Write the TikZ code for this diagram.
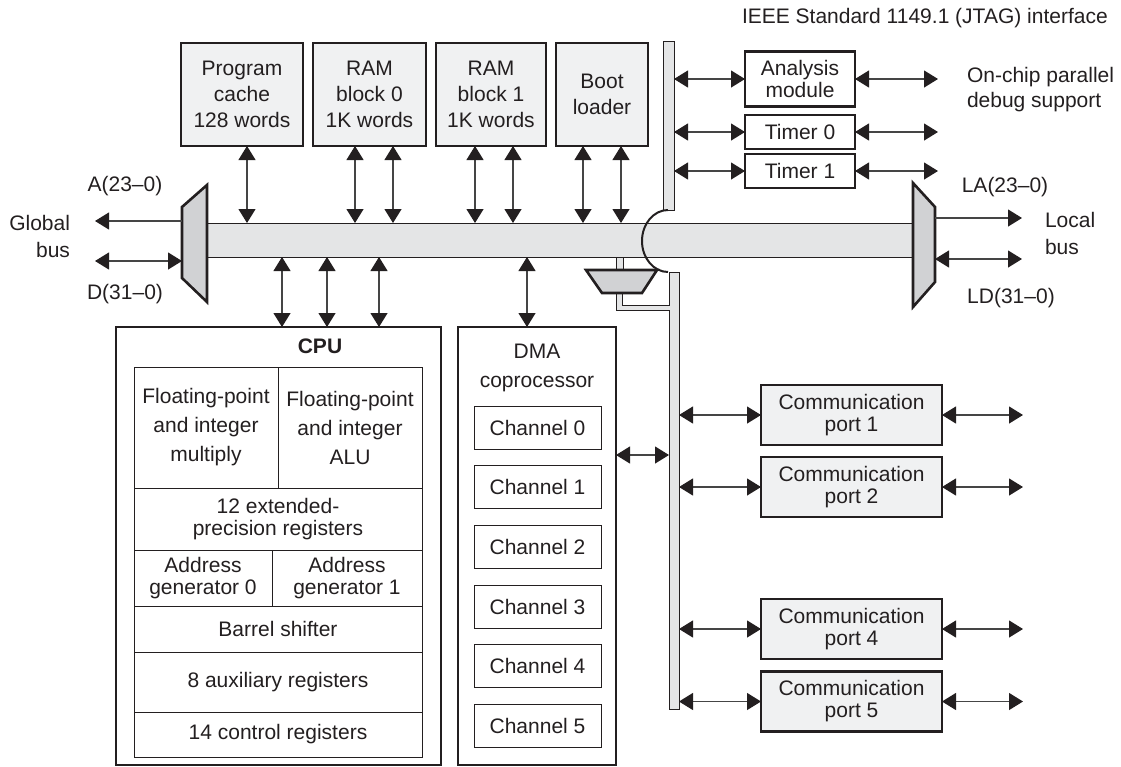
\documentclass[tikz,border=0pt]{standalone}
\usepackage{fontspec}
\setmainfont{Liberation Sans}
\usetikzlibrary{arrows.meta, positioning}

\definecolor{ink}{HTML}{231F20}
\definecolor{wire}{HTML}{454545}
\definecolor{busgray}{HTML}{E4E5E6}
\definecolor{boxgray}{HTML}{F0F1F2}
\definecolor{muxgray}{HTML}{D1D2D4}

\tikzset{
  lbl/.style={font=\fontsize{21}{22}\selectfont, text=ink, align=center, inner sep=0pt, outer sep=0pt},
  unit/.style={lbl, draw=ink, line width=2.6pt},
  mem/.style={unit, fill=boxgray, minimum height=103, font=\fontsize{21}{26}\selectfont},
  cell/.style={lbl, draw=ink, line width=1pt},
  bar/.style={draw=ink, line width=1pt, fill=busgray, inner sep=0pt, outer sep=0pt},
  link/.style={<->, draw=wire, line width=1.2pt},
  mux/.style={draw=ink, line width=2.6pt, fill=muxgray},
}

\begin{document}
\begin{tikzpicture}[x=1pt, y=-1pt, >={Triangle[width=17pt,length=14pt,color=ink]}]
    \useasboundingbox (0,0) rectangle (1121,766);

    % buses
    \node[bar, minimum width=706, minimum height=34] (gbus) at (560,240) {};
    \node[bar, minimum width=11, minimum height=169] (jtagbar) at (668.5,125.5) {};
    \node[bar, minimum width=10, minimum height=437] (commbar) at (674,490.5) {};
    \draw[ink, line width=2pt] (668,210) arc[start angle=270, end angle=90, x radius=26, y radius=31];

    % small mux under the bus
    \draw[bar] (616,257) rectangle (623,270);
    \fill[busgray] (616,293) -- (616,310) -- (670,310) -- (670,305) -- (622,305) -- (622,293) -- cycle;
    \draw[ink, line width=1pt] (616,293) -- (616,310) -- (670,310) (622,293) -- (622,305) -- (670,305);
    \draw[mux] (586,270) -- (657,270) -- (642,293) -- (602,293) -- cycle;

    % bus multiplexers
    \draw[mux] (182,207) -- (207,185) -- (207,302) -- (182,278) -- cycle;
    \draw[mux] (913,183) -- (935,207) -- (935,282) -- (913,307) -- cycle;

    \coordinate (gA) at (182,221);
    \coordinate (gAend) at (95,221);
    \coordinate (gD) at (182,261);
    \coordinate (gDend) at (95,261);
    \coordinate (lA) at (935,218);
    \coordinate (lAend) at (1022,218);
    \coordinate (lD) at (935,259);
    \coordinate (lDend) at (1022,259);
    \draw[link, ->] (gA) -- (gAend);
    \draw[link] (gD) -- (gDend);
    \draw[link, ->] (lA) -- (lAend);
    \draw[link] (lD) -- (lDend);

    \node[lbl] (gaddr) at (125,186) {A(23--0)};
    \node[lbl] (gdata) at (125,294) {D(31--0)};
    \node[lbl, align=right, anchor=east, font=\fontsize{21}{27}\selectfont] (gname) at (70,236.5) {Global\\bus};
    \node[lbl] (laddr) at (1005,187) {LA(23--0)};
    \node[lbl] (ldata) at (1011,298) {LD(31--0)};
    \node[lbl, align=left, anchor=west, font=\fontsize{21}{27}\selectfont] (lname) at (1045,233.5) {Local\\bus};

    % memories
    \node[mem, minimum width=122] (pc) at (242,94.5) {Program\\cache\\128 words};
    \node[mem, minimum width=113, right=10pt of pc] (ram0) {RAM\\block 0\\1K words};
    \node[mem, minimum width=110, right=10pt of ram0] (ram1) {RAM\\block 1\\1K words};
    \node[mem, minimum width=92, right=10pt of ram1] (boot) {Boot\\loader};
    \foreach \blk/\dx in {pc/5, ram0/-14.5, ram0/23.5, ram1/-16, ram1/22, boot/-19, boot/19} {
        \path ([xshift=\dx pt]\blk.south) coordinate (tap);
        \draw[link] (tap) -- (tap |- gbus.north);
    }

    % JTAG side
    \node[lbl, anchor=west] (jtag) at (742,18) {IEEE Standard 1149.1 (JTAG) interface};
    \node[lbl, align=left, anchor=west, font=\fontsize{21}{25}\selectfont] (dbg) at (967,89.5) {On-chip parallel\\debug support};
    \node[unit, fill=white, minimum width=110, minimum height=55] (anl) at (800,79) {Analysis\\module};
    \node[unit, fill=white, minimum width=110, minimum height=34] (tim0) at (800,132) {Timer 0};
    \node[unit, fill=white, minimum width=110, minimum height=34] (tim1) at (800,171) {Timer 1};
    \coordinate (jtagout) at (938,0);
    \foreach \n in {anl,tim0,tim1} {
        \draw[link] (jtagbar.east |- \n.west) -- (\n.west);
        \draw[link] (\n.east) -- (\n.east -| jtagout);
    }

    % CPU
    \node[unit, fill=white, minimum width=325, minimum height=438] (cpu) at (278.5,546) {};
    \node[lbl, font=\fontsize{21}{22}\selectfont\bfseries] (cputitle) at (320,346) {CPU};
    \node[cell, minimum width=144, minimum height=121, font=\fontsize{21}{29}\selectfont] (fpm) at (206,427.5) {Floating-point\\and integer\\multiply};
    \node[cell, minimum width=144, minimum height=121, font=\fontsize{21}{29}\selectfont, anchor=west] (alu) at (fpm.east) {Floating-point\\and integer\\ALU};
    \node[cell, minimum width=288, minimum height=62, anchor=north west] (ext) at (fpm.south west) {12 extended-\\precision registers};
    \node[cell, minimum width=138, minimum height=56, anchor=north west] (ag0) at (ext.south west) {Address\\generator 0};
    \node[cell, minimum width=150, minimum height=56, anchor=west] (ag1) at (ag0.east) {Address\\generator 1};
    \node[cell, minimum width=288, minimum height=46, anchor=north west] (bsh) at (ag0.south west) {Barrel shifter};
    \node[cell, minimum width=288, minimum height=60, anchor=north west] (aux) at (bsh.south west) {8 auxiliary registers};
    \node[cell, minimum width=288, minimum height=45, anchor=north west] (ctl) at (aux.south west) {14 control registers};
    \foreach \dx in {3.5, 48.5, 100.5} {
        \path ([xshift=\dx pt]cpu.north) coordinate (tap);
        \draw[link] (tap |- gbus.south) -- (tap);
    }

    % DMA
    \node[unit, fill=white, minimum width=158, minimum height=438] (dma) at (537,546) {};
    \node[lbl, font=\fontsize{21}{29}\selectfont] (dmatitle) at (537,367.5) {DMA\\coprocessor};
    \foreach \i in {0,...,5}
        \node[cell, minimum width=127, minimum height=43] (ch\i) at (537.5,427.5+59.7*\i) {Channel \i};
    \path ([xshift=-10pt]dma.north) coordinate (tap);
    \draw[link] (tap |- gbus.south) -- (tap);
    \path ([yshift=91pt]dma.east) coordinate (dmaport);
    \draw[link] (dmaport) -- (dmaport -| commbar.west);

    % communication ports
    \coordinate (portout) at (1023,0);
    \foreach \p/\y in {1/415, 2/487, 4/629, 5/701.5} {
        \node[unit, fill=boxgray, minimum width=181, minimum height=60] (port\p) at (851.5,\y) {Communication\\port \p};
        \draw[link] (commbar.east |- port\p.west) -- (port\p.west);
        \draw[link] (port\p.east) -- (port\p.east -| portout);
    }
\end{tikzpicture}
\end{document}
